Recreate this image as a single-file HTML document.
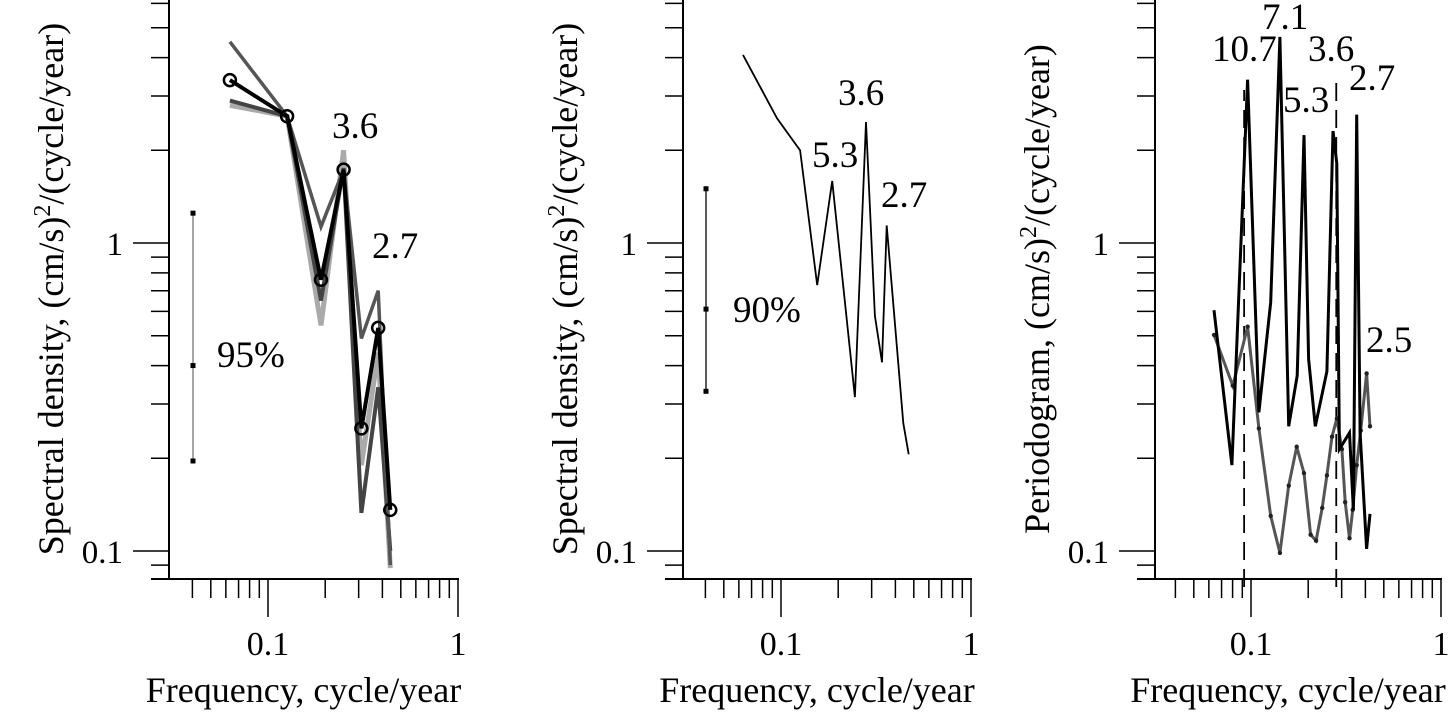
<!DOCTYPE html>
<html><head><meta charset="utf-8"><style>
html,body{margin:0;padding:0;background:#fff;}
svg{display:block;font-family:"Liberation Serif",serif;}
</style></head><body>
<svg id="chart" width="1449" height="713" viewBox="0 0 1449 713" xmlns="http://www.w3.org/2000/svg"></svg>
<script>
// Panel 1 data
const p1Freq = [0.063, 0.126, 0.19, 0.25, 0.31, 0.38, 0.44];
const p1Mean = [3.38, 2.58, 0.76, 1.73, 0.25, 0.53, 0.136];
const p1SeriesA = [4.5, 2.58, 1.13, 1.73, 0.49, 0.70, 0.09];
const p1SeriesB = [2.9, 2.58, 0.65, 1.75, 0.133, 0.34, 0.10];
const p1SeriesC = [2.8, 2.58, 0.54, 2.0, 0.19, 0.44, 0.088];
const p1Err = [1.25, 0.40, 0.196];
const p1Labels = ["3.6", "2.7", "95%"];
// Panel 2 data
const p2Freq = [0.0631, 0.0953, 0.126, 0.155, 0.186, 0.245, 0.28, 0.312, 0.34, 0.36, 0.44, 0.47];
const p2Vals = [4.08, 2.54, 2.0, 0.73, 1.59, 0.316, 2.47, 0.58, 0.41, 1.14, 0.26, 0.206];
const p2Err = [1.5, 0.61, 0.33];
const p2Labels = ["5.3", "3.6", "2.7", "90%"];
// Panel 3 data
const p3FreqBlack = [0.0639, 0.0793, 0.096, 0.110, 0.127, 0.142, 0.158, 0.175, 0.19, 0.201, 0.218, 0.251, 0.27, 0.283, 0.292, 0.33, 0.346, 0.36, 0.375, 0.406, 0.423];
const p3Black = [0.605, 0.19, 3.39, 0.282, 0.643, 4.67, 0.254, 0.371, 2.24, 0.42, 0.254, 0.383, 2.31, 1.81, 0.214, 0.242, 0.136, 2.61, 0.242, 0.1016, 0.132];
const p3FreqGray = [0.0639, 0.0802, 0.096, 0.110, 0.127, 0.142, 0.158, 0.174, 0.19, 0.206, 0.220, 0.237, 0.251, 0.267, 0.283, 0.301, 0.313, 0.330, 0.343, 0.360, 0.378, 0.406, 0.423];
const p3Gray = [0.503, 0.344, 0.535, 0.250, 0.130, 0.0986, 0.163, 0.218, 0.179, 0.113, 0.108, 0.138, 0.176, 0.235, 0.269, 0.214, 0.144, 0.110, 0.136, 0.19, 0.246, 0.377, 0.254];
const p3Dashed = [0.092, 0.281];
const p3Labels = ["10.7", "7.1", "5.3", "3.6", "2.7", "2.5"];
const xTickLabels = ["0.1", "1"];
const yTickLabels = ["0.1", "1"];

const NS = "http://www.w3.org/2000/svg";
const svg = document.getElementById("chart");
function mk(tag, attrs, parent) {
  const e = document.createElementNS(NS, tag);
  for (const k in attrs) e.setAttribute(k, attrs[k]);
  (parent || svg).appendChild(e);
  return e;
}
const Y1 = 243, DEC_Y = 308, AXB = 579;
function yS(v) { return Y1 - Math.log10(v) * DEC_Y; }

function panel(name, axisX, tenthX, yTitle) {
  const g = mk("g", {});
  
  
  const xS = v => tenthX + (Math.log10(v) + 1) * 190;
  const ya = mk("line", {x1: axisX, y1: 0, x2: axisX, y2: AXB, stroke: "#000", "stroke-width": 2}, g);
  
  
  const xa = mk("line", {x1: axisX - 18, y1: AXB, x2: xS(1) + 1, y2: AXB, stroke: "#000", "stroke-width": 2}, g);
  
  
  const ymaj = [0.1, 1];
  for (const v of [0.09, 0.1, 0.2, 0.3, 0.4, 0.5, 0.6, 0.7, 0.8, 0.9, 1, 2, 3, 4, 5, 6]) {
    const y = yS(v);
    const major = ymaj.includes(v);
    const t = mk("line", {x1: axisX - (major ? 36 : 18), y1: y, x2: axisX, y2: y, stroke: "#000", "stroke-width": 1.5}, g);
    
    
  }
  yTickLabels.forEach((lab, i) => {
    const t = mk("text", {x: axisX - 46, y: yS(ymaj[i]) + 12, "text-anchor": "end", "font-size": 33}, g);
    t.textContent = lab;
    
    
  });
  const xmaj = [0.1, 1];
  const xmin = Math.pow(10, -1 - (tenthX - axisX) / 190);
  const xt = [];
  for (let v = 0.04; v < 0.095; v += 0.01) xt.push(+v.toFixed(2));
  for (let v = 0.1; v <= 1.001; v += 0.1) xt.push(+v.toFixed(1));
  xt.forEach(v => {
    if (v < xmin) return;
    const x = xS(v);
    const major = xmaj.includes(v);
    const t = mk("line", {x1: x, y1: AXB, x2: x, y2: AXB + (major ? 38 : 19), stroke: "#000", "stroke-width": 1.5}, g);
    
    
  });
  xTickLabels.forEach((lab, i) => {
    const t = mk("text", {x: xS(xmaj[i]), y: 655, "text-anchor": "middle", "font-size": 34}, g);
    t.textContent = lab;
    
    
  });
  const xtTitle = mk("text", {x: (axisX + xS(1)) / 2 - 10, y: 702, "text-anchor": "middle", "font-size": 36}, g);
  xtTitle.textContent = "Frequency, cycle/year";
  
  
  const yt = mk("text", {x: 0, y: 0, "text-anchor": "middle", "font-size": 36, transform: `translate(${axisX - 106},289) rotate(-90)`}, g);
  yt.innerHTML = yTitle + ', (cm/s)<tspan dy="-13" font-size="24">2</tspan><tspan dy="13">/(cycle/year)</tspan>';
  
  
  return {g, xS};
}
function line(g, xs, fx, ys, color, w, name) {
  const pts = xs.map((v, i) => fx(v).toFixed(1) + "," + yS(ys[i]).toFixed(1)).join(" ");
  const p = mk("polyline", {points: pts, fill: "none", stroke: color, "stroke-width": w, "stroke-linejoin": "miter"}, g);
  
  
  return p;
}
function label(g, x, y, txt, name) {
  const t = mk("text", {x: x, y: y, "font-size": 37}, g);
  t.textContent = txt;
  
  
}
function errbar(g, x, vals, name, color) {
  const e = mk("line", {x1: x, y1: yS(vals[0]), x2: x, y2: yS(vals[2]), stroke: color, "stroke-width": 1.5}, g);
  
  
  vals.forEach(v => {
    const d = mk("rect", {x: x - 2.5, y: yS(v) - 2.5, width: 5, height: 5, fill: "#000"}, g);
    
    
  });
}

// Panel 1
const P1 = panel("panel-spectral-95", 169, 268, "Spectral density");
line(P1.g, p1Freq, P1.xS, p1SeriesC, "#aaa", 5, "series-light-gray");
line(P1.g, p1Freq, P1.xS, p1SeriesB, "#444", 4, "series-dark-gray-b");
line(P1.g, p1Freq, P1.xS, p1SeriesA, "#555", 3.5, "series-dark-gray-a");
line(P1.g, p1Freq, P1.xS, p1Mean, "#000", 4, "series-mean");
p1Freq.forEach((f, i) => {
  const c = mk("circle", {cx: P1.xS(f), cy: yS(p1Mean[i]), r: 6, fill: "none", stroke: "#000", "stroke-width": 2.5}, P1.g);
  
  
});
errbar(P1.g, 193, p1Err, "error-bar-95", "#888");
label(P1.g, 332, 138, p1Labels[0], "peak-label-3-6");
label(P1.g, 372, 258, p1Labels[1], "peak-label-2-7");
label(P1.g, 217, 367, p1Labels[2], "confidence-label");

// Panel 2
const P2 = panel("panel-spectral-90", 683, 781, "Spectral density");
line(P2.g, p2Freq, P2.xS, p2Vals, "#000", 1.8, "series-spectrum");
errbar(P2.g, 706, p2Err, "error-bar-90", "#222");
label(P2.g, 812, 167, p2Labels[0], "peak-label-5-3");
label(P2.g, 838, 105, p2Labels[1], "peak-label-3-6");
label(P2.g, 881, 207, p2Labels[2], "peak-label-2-7");
label(P2.g, 733, 322, p2Labels[3], "confidence-label");

// Panel 3
const P3 = panel("panel-periodogram", 1155, 1251, "Periodogram");
p3Dashed.forEach((f, i) => {
  const d = mk("line", {x1: P3.xS(f), y1: AXB + 8, x2: P3.xS(f), y2: i === 0 ? 90 : 82, stroke: "#000", "stroke-width": 1.8, "stroke-dasharray": "18,9"}, P3.g);
  
  
});
line(P3.g, p3FreqGray, P3.xS, p3Gray, "#555", 3, "series-gray");
p3FreqGray.forEach((f, i) => {
  const d = mk("circle", {cx: P3.xS(f), cy: yS(p3Gray[i]), r: 2.2, fill: "#222"}, P3.g);
  
  
});
line(P3.g, p3FreqBlack, P3.xS, p3Black, "#000", 3, "series-black");
label(P3.g, 1212, 61, p3Labels[0], "peak-label-10-7");
label(P3.g, 1262, 29, p3Labels[1], "peak-label-7-1");
label(P3.g, 1283, 112, p3Labels[2], "peak-label-5-3");
label(P3.g, 1308, 61, p3Labels[3], "peak-label-3-6");
label(P3.g, 1349, 90, p3Labels[4], "peak-label-2-7");
label(P3.g, 1366, 352, p3Labels[5], "peak-label-2-5");
</script>
</body></html>
